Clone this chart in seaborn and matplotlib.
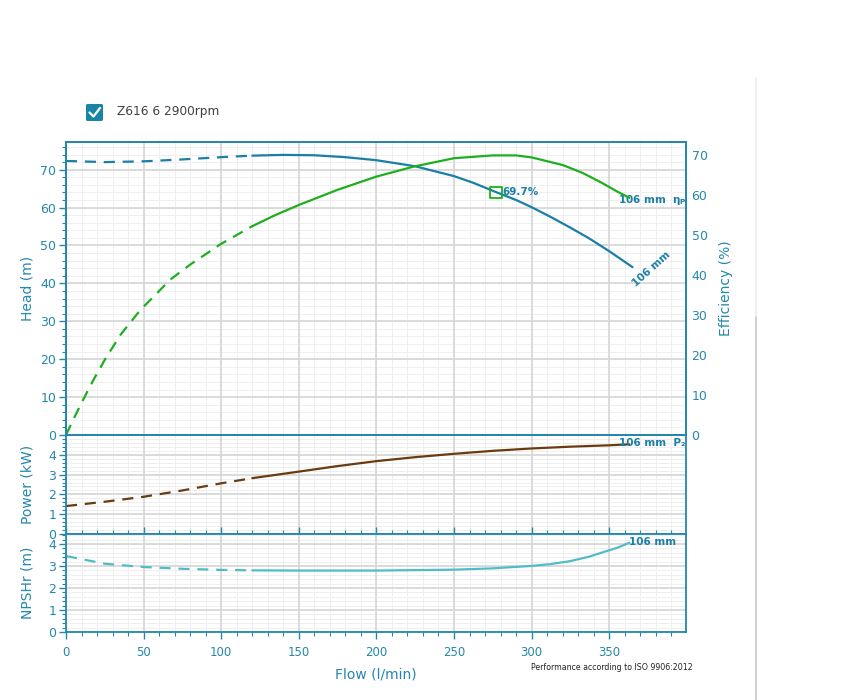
import numpy as np
import pandas as pd
import seaborn as sns
import matplotlib.pyplot as plt
from matplotlib.patches import FancyBboxPatch
from matplotlib.lines import Line2D
from matplotlib.ticker import MultipleLocator

# Curve data (flow in l/min)
flow_head = [0, 25, 50, 75, 100, 120, 140, 160, 180, 200, 225, 250, 262, 277, 290, 300,
             312, 325, 337, 350, 365]
head = [72.3, 72.0, 72.2, 72.7, 73.3, 73.7, 73.9, 73.8, 73.3, 72.5, 70.9, 68.3, 66.6,
        64.1, 62.0, 60.1, 57.6, 54.7, 51.9, 48.5, 44.3]

flow_eff = [0, 5, 11, 18, 25, 35, 48, 57, 67, 80, 100, 120, 135, 150, 175, 200, 224,
            250, 275, 290, 300, 320, 333, 345, 355, 363]
eff = [0, 4.1, 8.8, 14.0, 18.8, 25.0, 31.3, 34.8, 38.8, 42.6, 47.8, 52.2, 55.0, 57.5,
       61.3, 64.6, 67.1, 69.2, 69.9, 69.9, 69.4, 67.5, 65.5, 63.1, 60.9, 59.3]

flow_pow = [0, 25, 50, 75, 100, 120, 150, 175, 200, 225, 250, 275, 300, 325, 350, 363]
power = [1.41, 1.63, 1.88, 2.2, 2.56, 2.82, 3.15, 3.43, 3.68, 3.88, 4.05, 4.2, 4.32,
         4.41, 4.48, 4.53]

flow_npsh = [0, 25, 50, 75, 100, 120, 150, 200, 250, 275, 300, 312, 325, 337, 345, 355, 363]
npsh = [3.45, 3.1, 2.95, 2.87, 2.82, 2.8, 2.79, 2.79, 2.83, 2.89, 3.0, 3.08, 3.22, 3.42,
        3.6, 3.82, 4.05]

bep_flow = [277]
bep_head = [64.0]
bep_label = "69.7%"
min_flow = 120  # curves are dashed below this flow

TEAL = "#2487ab"
C_HEAD = "#1a7fa6"
C_EFF = "#1fae1f"
C_POW = "#6b3b10"
C_NPSH = "#52bcc6"

sns.set_style("white")
plt.rcParams["font.family"] = ["DejaVu Sans"]

fig = plt.figure(figsize=(8.43, 7), dpi=100)
L, W = 66 / 843, 620 / 843
ax_h = fig.add_axes([L, 265 / 700, W, 293 / 700])
ax_p = fig.add_axes([L, 166 / 700, W, 99 / 700], sharex=ax_h)
ax_n = fig.add_axes([L, 68 / 700, W, 98 / 700], sharex=ax_h)
ax_e = ax_h.twinx()


def draw_curve(ax, x, y, color):
    df = pd.DataFrame({"flow": x, "val": y})
    low = df[df.flow <= min_flow]
    high = df[df.flow >= min_flow]
    sns.lineplot(data=low, x="flow", y="val", ax=ax, color=color, lw=1.6,
                 linestyle=(0, (5, 3.5)), estimator=None, sort=False)
    sns.lineplot(data=high, x="flow", y="val", ax=ax, color=color, lw=1.6,
                 estimator=None, sort=False)


draw_curve(ax_h, flow_head, head, C_HEAD)
draw_curve(ax_e, flow_eff, eff, C_EFF)
draw_curve(ax_p, flow_pow, power, C_POW)
draw_curve(ax_n, flow_npsh, npsh, C_NPSH)

ax_h.set_xlim(0, 399.5)
ylims = {ax_h: (77.3, 10, 2), ax_p: (5.0, 1, 0.2), ax_n: (4.45, 1, 0.2)}

for ax, (top, major, minor) in ylims.items():
    ax.set_ylim(0, top)
    ax.xaxis.set_major_locator(MultipleLocator(50))
    ax.xaxis.set_minor_locator(MultipleLocator(10))
    ax.yaxis.set_major_locator(MultipleLocator(major))
    ax.yaxis.set_minor_locator(MultipleLocator(minor))
    # light minor grid underneath the major grid
    for xv in np.arange(10, 400, 10):
        ax.axvline(xv, color="#efefef", lw=0.7, zorder=0.2)
    for yv in np.arange(minor, top, minor):
        ax.axhline(yv, color="#efefef", lw=0.7, zorder=0.2)
    ax.grid(which="major", color="#d6d6d6", lw=1.2)
    ax.set_axisbelow(True)
    ax.tick_params(axis="y", which="major", colors=TEAL, labelsize=9,
                   direction="out", length=5, width=1, left=True, pad=2)
    ax.tick_params(axis="y", which="minor", colors=TEAL, direction="out",
                   length=3, width=0.8, left=True)
    ax.set_xlabel("")

ax_p.set_yticks([0, 1, 2, 3, 4])
ax_n.set_yticks([0, 1, 2, 3, 4])

ax_h.tick_params(axis="x", which="both", bottom=False, labelbottom=False)
ax_p.tick_params(axis="x", which="both", bottom=False, labelbottom=False)
ax_n.tick_params(axis="x", which="major", colors=TEAL, labelsize=8.5,
                 direction="out", length=5, width=1, bottom=True, pad=5)
ax_n.tick_params(axis="x", which="minor", colors=TEAL, direction="out",
                 length=3, width=0.8, bottom=True)
ax_n.tick_params(axis="x", which="both", top=True)
ax_n.set_xticks([0, 50, 100, 150, 200, 250, 300, 350])

ax_e.set_ylim(0, 73.25)
ax_e.set_yticks(range(0, 71, 10))
ax_e.tick_params(axis="y", colors=TEAL, labelsize=9, length=0, pad=4)
ax_e.set_xlabel("")

for ax in (ax_h, ax_p, ax_n, ax_e):
    for s in ax.spines.values():
        s.set_color(TEAL)
        s.set_linewidth(1.3)

ax_h.set_ylabel("Head (m)", color=TEAL, fontsize=10)
ax_p.set_ylabel("Power (kW)", color=TEAL, fontsize=10)
ax_n.set_ylabel("NPSHr (m)", color=TEAL, fontsize=10)
ax_e.set_ylabel("Efficiency (%)", color=TEAL, fontsize=10)
for ax in (ax_h, ax_p, ax_n):
    ax.yaxis.set_label_coords(-0.051, 0.5)
ax_e.yaxis.set_label_coords(1.053, 0.5)
ax_n.set_xlabel("Flow (l/min)", color=TEAL, fontsize=10, labelpad=6)

# BEP marker and curve labels
sns.scatterplot(x=bep_flow, y=bep_head, ax=ax_h, marker="s", s=70,
                facecolor="none", edgecolor=C_EFF, linewidth=1.3, zorder=5)
lab = dict(color=C_HEAD, fontsize=7.5, fontweight="bold")
ax_h.text(bep_flow[0] + 4.5, bep_head[0], bep_label, ha="left", va="center", **lab)
ax_h.text(377, 43.8, "106 mm", rotation=42, ha="center", va="center", **lab)
t1 = ax_h.text(356, 62.0, "106 mm  η$_\\mathregular{P}$", ha="left", va="center", **lab)
t2 = ax_p.text(356.5, 4.6, "106 mm  P₂", ha="left", va="center", **lab)
ax_n.text(363, 4.09, "106 mm", ha="left", va="center", **lab)
for t, ax in ((t1, ax_h), (t2, ax_p)):
    t.set_clip_box(ax.bbox)
    t.set_clip_on(True)

# header: checkbox + title
fig.patches.append(FancyBboxPatch((86 / 843, 1 - 121 / 700), 17 / 843, 17 / 700,
                                  boxstyle="round,pad=0,rounding_size=0.002",
                                  transform=fig.transFigure, fc="#1a84a8", ec="none"))
fig.lines.append(Line2D([89.5 / 843, 93.5 / 843, 100 / 843],
                        [1 - 112.5 / 700, 1 - 116.5 / 700, 1 - 108 / 700],
                        transform=fig.transFigure, color="white", lw=1.6))
fig.text(117 / 843, 1 - 112 / 700, "Z616 6 2900rpm", fontsize=8.7,
         color="#404040", va="center", ha="left")
fig.text(693 / 843, 1 - 668 / 700, "Performance according to ISO 9906:2012",
         fontsize=5.7, color="#222222", ha="right", va="center")

# page border line on the right
fig.lines.append(Line2D([756 / 843, 756 / 843], [1 - 78 / 700, 1 - 317 / 700],
                        transform=fig.transFigure, color="#ececec", lw=1.2))
fig.lines.append(Line2D([756 / 843, 756 / 843], [1 - 317 / 700, 0],
                        transform=fig.transFigure, color="#c8c8c8", lw=1.2))

fig.savefig("out.png", dpi=100)
